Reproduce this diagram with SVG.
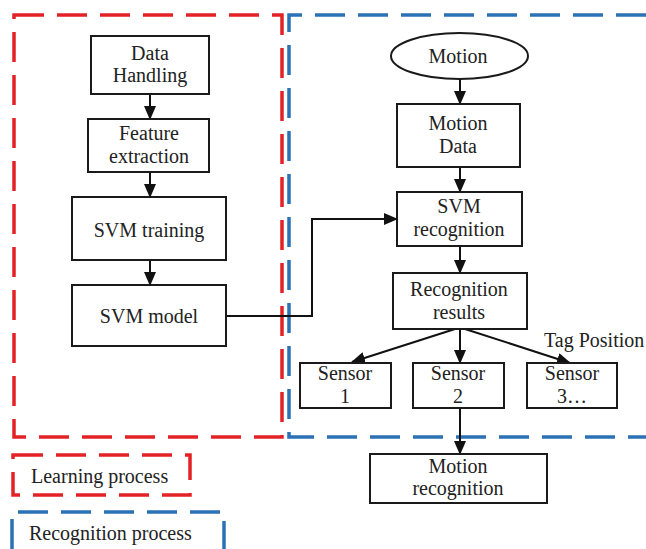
<svg xmlns="http://www.w3.org/2000/svg" width="646" height="549" viewBox="0 0 646 549">
<style>
.node{fill:#fff;stroke:#1a1a1a;stroke-width:2}
.t{font-family:"Liberation Serif","Times New Roman",serif;font-size:20px;fill:#222;text-anchor:middle}
.tl{font-family:"Liberation Serif","Times New Roman",serif;font-size:20px;fill:#222}
.red{fill:none;stroke:#e32226;stroke-width:3.5;stroke-dasharray:30 13}
.blue{fill:none;stroke:#2a72b5;stroke-width:3.5;stroke-dasharray:30 13}
.c{fill:none;stroke:#111;stroke-width:2;marker-end:url(#ah)}
</style>
<defs>
<marker id="ah" markerUnits="userSpaceOnUse" markerWidth="14" markerHeight="12" viewBox="0 0 14 12" refX="13" refY="6" orient="auto">
<path d="M0,0 L14,6 L0,12 Z" fill="#111"/>
</marker>
</defs>
<rect width="646" height="549" fill="#fff"/>
<g id="learning-region">
<rect class="red" x="14" y="15" width="268" height="422"/>
</g>
<g id="recognition-region">
<path class="blue" d="M646,15 H289 V437 H646"/>
</g>
<g id="connectors">
<line class="c" x1="150" y1="94" x2="150" y2="119"/>
<line class="c" x1="150" y1="172" x2="150" y2="197"/>
<line class="c" x1="150" y1="260" x2="150" y2="285"/>
<polyline class="c" points="226,316 312,316 312,219 397,219"/>
<line class="c" x1="460" y1="79" x2="460" y2="104"/>
<line class="c" x1="460" y1="167" x2="460" y2="192"/>
<line class="c" x1="460" y1="246" x2="460" y2="273"/>
<line class="c" x1="455" y1="329" x2="352" y2="362"/>
<line class="c" x1="460" y1="329" x2="460" y2="363"/>
<line class="c" x1="465" y1="329" x2="570" y2="363"/>
<line class="c" x1="460" y1="408" x2="460" y2="454"/>
</g>
<g id="data-handling">
<rect class="node" x="91" y="36" width="118" height="58"/>
<text class="t" x="150" y="60">Data</text>
<text class="t" x="150" y="82">Handling</text>
</g>
<g id="feature-extraction">
<rect class="node" x="88" y="119" width="121" height="53"/>
<text class="t" x="149" y="140">Feature</text>
<text class="t" x="149" y="163">extraction</text>
</g>
<g id="svm-training">
<rect class="node" x="72" y="197" width="154" height="63"/>
<text class="t" x="149" y="237">SVM training</text>
</g>
<g id="svm-model">
<rect class="node" x="72" y="285" width="154" height="61"/>
<text class="t" x="149" y="323">SVM model</text>
</g>
<g id="motion">
<ellipse class="node" cx="459.5" cy="56" rx="68.5" ry="23"/>
<text class="t" x="458" y="63">Motion</text>
</g>
<g id="motion-data">
<rect class="node" x="397" y="104" width="123" height="63"/>
<text class="t" x="458" y="130">Motion</text>
<text class="t" x="458" y="153">Data</text>
</g>
<g id="svm-recognition">
<rect class="node" x="397" y="192" width="125" height="54"/>
<text class="t" x="459" y="213">SVM</text>
<text class="t" x="459" y="236">recognition</text>
</g>
<g id="recognition-results">
<rect class="node" x="393" y="273" width="134" height="56"/>
<text class="t" x="459" y="296">Recognition</text>
<text class="t" x="459" y="319">results</text>
</g>
<g id="tag-position">
<text class="tl" x="544" y="347">Tag Position</text>
</g>
<g id="sensor-1">
<rect class="node" x="300" y="363" width="91" height="45"/>
<text class="t" x="345" y="380">Sensor</text>
<text class="t" x="345" y="403">1</text>
</g>
<g id="sensor-2">
<rect class="node" x="413" y="363" width="91" height="45"/>
<text class="t" x="458" y="380">Sensor</text>
<text class="t" x="458" y="403">2</text>
</g>
<g id="sensor-3">
<rect class="node" x="527" y="363" width="90" height="45"/>
<text class="t" x="572" y="380">Sensor</text>
<text class="t" x="572" y="403">3…</text>
</g>
<g id="motion-recognition">
<rect class="node" x="370" y="454" width="177" height="49"/>
<text class="t" x="458" y="473">Motion</text>
<text class="t" x="458" y="495">recognition</text>
</g>
<g id="legend-learning">
<rect class="red" x="13" y="455" width="177" height="40"/>
<text class="tl" x="31" y="483">Learning process</text>
</g>
<g id="legend-recognition">
<path class="blue" d="M12,549 V512 H224 V549"/>
<text class="tl" x="29" y="540">Recognition process</text>
</g>
</svg>
